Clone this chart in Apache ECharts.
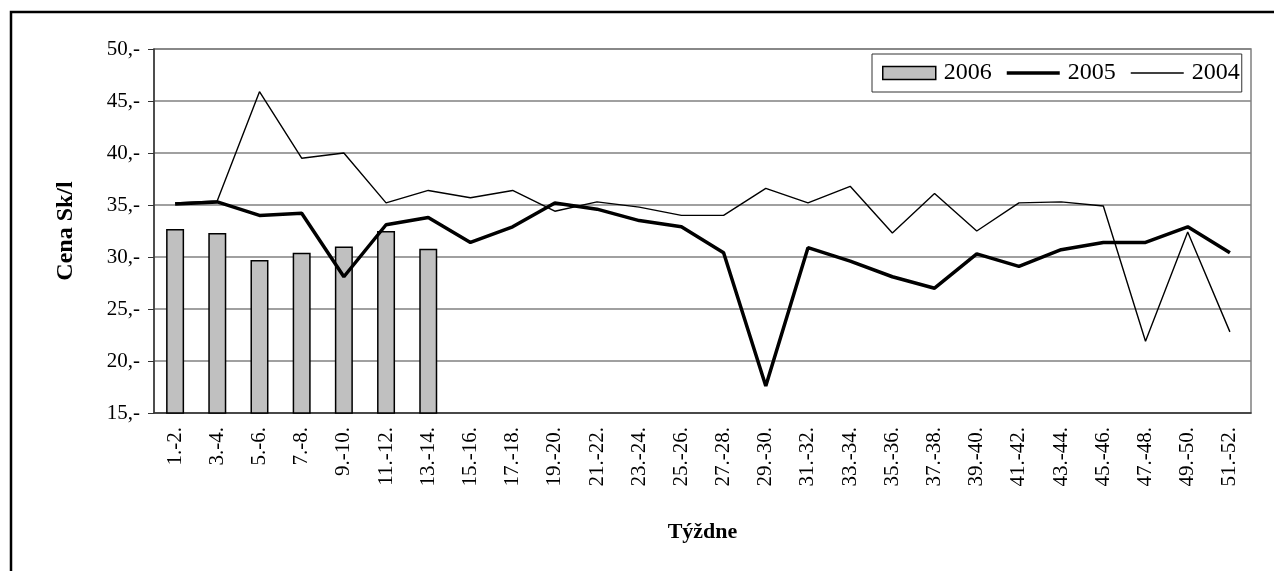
<!DOCTYPE html>
<html>
<head>
<meta charset="utf-8">
<script src="https://cdn.jsdelivr.net/npm/echarts@6/dist/echarts.min.js"></script>
<style>
    html, body { margin: 0; padding: 0; background: #fff; }
    #chart { width: 1274px; height: 571px; }
</style>
</head>
<body>
<div id="chart"></div>
<script>
// týždne (dvojtýždne)
const weeks = ['1.-2.', '3.-4.', '5.-6.', '7.-8.', '9.-10.', '11.-12.', '13.-14.', '15.-16.', '17.-18.',
    '19.-20.', '21.-22.', '23.-24.', '25.-26.', '27.-28.', '29.-30.', '31.-32.', '33.-34.', '35.-36.',
    '37.-38.', '39.-40.', '41.-42.', '43.-44.', '45.-46.', '47.-48.', '49.-50.', '51.-52.']
const price2006 = [32.7, 32.3, 29.7, 30.4, 31.0, 32.5, 30.8]
const price2005 = [35.1, 35.3, 34.0, 34.2, 28.1, 33.1, 33.8, 31.4, 32.9, 35.2, 34.6, 33.5, 32.9,
    30.4, 17.6, 30.9, 29.6, 28.1, 27.0, 30.3, 29.1, 30.7, 31.4, 31.4, 32.9, 30.4]
const price2004 = [35.2, 35.4, 45.9, 39.5, 40.0, 35.2, 36.4, 35.7, 36.4, 34.4, 35.3, 34.8, 34.0,
    34.0, 36.6, 35.2, 36.8, 32.3, 36.1, 32.5, 35.2, 35.3, 34.9, 21.9, 32.4, 22.8]

const font = 'Liberation Serif'
// legend line icons: first two moves fix the 53x13 box, then a filled strip
const thickIcon = 'path://M0,0M53,13M0,4.8L53,4.8L53,8.2L0,8.2Z'
const thinIcon = 'path://M0,0M53,13M0,5.7L53,5.7L53,7.3L0,7.3Z'

const chart = echarts.init(document.getElementById('chart'))

chart.setOption({
    animation: false,
    textStyle: { fontFamily: font, color: '#000' },
    graphic: [{
        type: 'rect',
        shape: { x: 11, y: 12, width: 1400, height: 700 },
        style: { fill: 'none', stroke: '#000', lineWidth: 2.5 },
        silent: true
    }],
    grid: {
        left: 154,
        right: 23,
        top: 49,
        bottom: 158,
        show: true,
        borderColor: '#808080',
        borderWidth: 1.5
    },
    legend: {
        left: 872,
        top: 54,
        padding: [7, 2, 7, 10],
        borderColor: '#333',
        borderWidth: 1,
        itemGap: 15,
        itemWidth: 53,
        itemHeight: 13,
        textStyle: { fontFamily: font, fontSize: 24, color: '#000', padding: [0, 0, 0, 3] },
        data: [
            { name: '2006', icon: 'rect', itemStyle: { color: '#c0c0c0', borderColor: '#000', borderWidth: 1.5 } },
            { name: '2005', icon: thickIcon, itemStyle: { color: '#000', borderWidth: 0 } },
            { name: '2004', icon: thinIcon, itemStyle: { color: '#000', borderWidth: 0 } }
        ]
    },
    xAxis: {
        type: 'category',
        data: weeks,
        boundaryGap: true,
        name: 'Týždne',
        nameLocation: 'middle',
        nameGap: 108,
        nameTextStyle: { fontFamily: font, fontSize: 22, fontWeight: 'bold', color: '#000' },
        axisLine: { lineStyle: { color: '#333', width: 1.5 } },
        axisTick: { length: 6, lineStyle: { color: '#333' } },
        axisLabel: { rotate: 90, margin: 14, fontFamily: font, fontSize: 21, color: '#000', interval: 0 }
    },
    yAxis: {
        type: 'value',
        min: 15,
        max: 50,
        interval: 5,
        name: 'Cena Sk/l',
        nameLocation: 'middle',
        nameGap: 76,
        nameTextStyle: { fontFamily: font, fontSize: 24, fontWeight: 'bold', color: '#000' },
        axisLine: { show: true, lineStyle: { color: '#333', width: 1.5 } },
        axisTick: { show: true, length: 6, lineStyle: { color: '#333' } },
        axisLabel: { margin: 14, fontFamily: font, fontSize: 21, color: '#000', formatter: v => v + ',-' },
        splitLine: { lineStyle: { color: '#808080', width: 1.5 } }
    },
    series: [
        {
            name: '2006',
            type: 'bar',
            data: price2006,
            barWidth: 18,
            itemStyle: { color: '#c0c0c0', borderColor: '#000', borderWidth: 1.5 }
        },
        {
            name: '2005',
            type: 'line',
            data: price2005,
            symbol: 'none',
            lineStyle: { color: '#000', width: 3.5 },
            itemStyle: { color: '#000' }
        },
        {
            name: '2004',
            type: 'line',
            data: price2004,
            symbol: 'none',
            lineStyle: { color: '#000', width: 1.4 },
            itemStyle: { color: '#000' }
        }
    ]
})
</script>
</body>
</html>
